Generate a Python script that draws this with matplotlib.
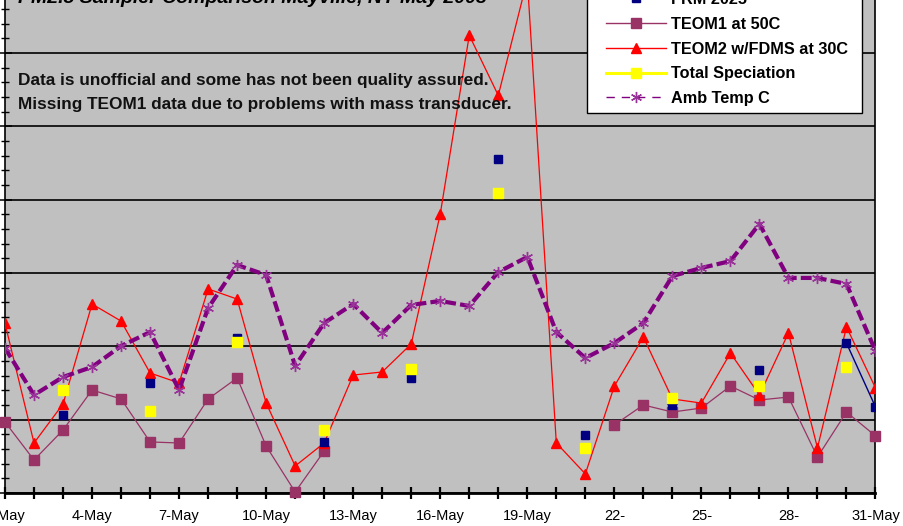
import numpy as np
import matplotlib
matplotlib.use("Agg")
import matplotlib.pyplot as plt
from matplotlib.lines import Line2D
from matplotlib.patches import Rectangle
from matplotlib.ticker import FixedLocator, MultipleLocator

nan = np.nan
days = list(range(1, 32))
label_days = [1, 4, 7, 10, 13, 16, 19, 22, 25, 28, 31]
tick_labels = ["1-May", "4-May", "7-May", "10-May", "13-May", "16-May",
               "19-May", "22-", "25-", "28-", "31-May"]

frm_2025 = [nan, nan, 5.32, nan, nan, 7.50, nan, nan, 10.57, nan, nan, 3.48,
            nan, nan, 7.84, nan, nan, 22.77, nan, nan, 3.95, nan, nan, 6.00,
            nan, nan, 8.38, nan, nan, 10.22, 5.86]
teom1_50c = [4.84, 2.25, 4.29, 7.02, 6.41, 3.48, 3.41, 6.41, 7.84, 3.20, 0.07,
             2.86, nan, nan, nan, nan, nan, nan, nan, nan, nan, 4.64, 6.00,
             5.52, 5.79, 7.29, 6.34, 6.54, 2.45, 5.52, 3.89]
teom2_fdms = [11.56, 3.41, 6.07, 12.88, 11.72, 8.18, 7.50, 13.91, 13.22, 6.13,
              1.84, 3.41, 8.04, 8.25, 10.16, 19.02, 31.2, 27.1, 35.0, 3.41,
              1.30, 7.29, 10.63, 6.41, 6.13, 9.54, 6.68, 10.91, 3.07, 11.32, 7.16]
total_spec = [nan, nan, 7.02, nan, nan, 5.59, nan, nan, 10.26, nan, nan, 4.29,
              nan, nan, 8.45, nan, nan, 20.45, nan, nan, 3.07, nan, nan, 6.48,
              nan, nan, 7.29, nan, nan, 8.59, nan]
amb_temp = [9.88, 6.68, 7.91, 8.59, 10.02, 10.97, 7.02, 12.61, 15.54, 14.86,
            8.66, 11.59, 12.88, 10.91, 12.82, 13.09, 12.75, 15.06, 16.09, 10.97,
            9.20, 10.22, 11.59, 14.79, 15.34, 15.81, 18.34, 14.66, 14.66, 14.25, 9.68]

series_names = ["FRM 2025", "TEOM1 at 50C", "TEOM2 w/FDMS at 30C",
                "Total Speciation", "Amb Temp C"]
title = "PM2.5 Sampler Comparison Mayville, NY May 2003"
note1 = "Data is unofficial and some has not been quality assured."
note2 = "Missing TEOM1 data due to problems with mass transducer."

W, H = 904, 526
plt.rcParams['font.family'] = ['Liberation Sans', 'DejaVu Sans']
fig = plt.figure(figsize=(W / 100, H / 100), dpi=100)
fig.patch.set_facecolor('white')

ytop = 36.0
px_per_unit = 14.67
ax = fig.add_axes([5 / W, 33 / H, 870.5 / W, ytop * px_per_unit / H])
ax.set_facecolor('#C0C0C0')
ax.set_xlim(1, 31)
ax.set_ylim(0, ytop)

BLACK = 'black'
ax.yaxis.set_major_locator(MultipleLocator(5))
ax.yaxis.set_minor_locator(MultipleLocator(1))
ax.yaxis.grid(True, which='major', color=BLACK, lw=1.2)
ax.set_axisbelow(True)
ax.tick_params(axis='y', which='major', direction='inout', length=10, width=1.1,
               labelleft=False)
ax.tick_params(axis='y', which='minor', direction='inout', length=6, width=1.0)

ax.xaxis.set_major_locator(FixedLocator(label_days))
ax.xaxis.set_minor_locator(FixedLocator([d for d in days if d not in label_days]))
ax.set_xticklabels(tick_labels)
ax.tick_params(axis='x', which='both', direction='inout', length=9, width=1.6)
ax.tick_params(axis='x', which='major', labelsize=10.5, pad=7)

for s in ['left', 'right']:
    ax.spines[s].set_linewidth(1.2)
ax.spines['bottom'].set_linewidth(2.0)
ax.spines['top'].set_visible(False)

ax.plot(days, teom1_50c, color='#993366', lw=0.9, marker='s', ms=6.5,
        mec='#993366', mfc='#993366', zorder=3, clip_on=False)
ax.plot(days, teom2_fdms, color='#FF0000', lw=0.9, marker='^', ms=7,
        mec='#FF0000', mfc='#FF0000', zorder=4, clip_on=True)
ax.plot(days, frm_2025, color='#000080', lw=1.0, marker='s', ms=6.3,
        mec='#000080', mfc='#000080', zorder=5)
ax.plot(days, total_spec, color='#FFFF00', lw=1.0, marker='s', ms=6.8,
        mec='#FFFF00', mfc='#FFFF00', zorder=6)
ax.plot(days, amb_temp, color='#800080', lw=3.0, dashes=(2.6, 1.0),
        marker=(6, 2, 0), ms=8, mec='#993399', mew=1.0, zorder=7)

# legend box
fig.add_artist(Rectangle((587 / W, (H - 113) / H), (862 - 587) / W, 0.3,
                         transform=fig.transFigure, facecolor='white',
                         edgecolor=BLACK, lw=1.0, zorder=10))
handles = [
    Line2D([], [], color='#000080', lw=2.2, marker='s', ms=6, mec='#000080', mfc='#000080'),
    Line2D([], [], color='#993366', lw=1.0, marker='s', ms=7, mec='#993366', mfc='#993366'),
    Line2D([], [], color='#FF0000', lw=1.0, marker='^', ms=7, mec='#FF0000', mfc='#FF0000'),
    Line2D([], [], color='#FFFF00', lw=2.2, marker='s', ms=7, mec='#FFFF00', mfc='#FFFF00'),
    Line2D([], [], color='#800080', lw=1.0, dashes=(6, 5), marker=(6, 2, 0), ms=8,
           mec='#993399', mew=1.0),
]
fs = 11.7
fs_px = fs * 100 / 72
leg = fig.legend(handles, series_names, loc='lower left',
                 bbox_to_anchor=(606 / W, (H - 106) / H),
                 bbox_transform=fig.transFigure, frameon=False, borderpad=0,
                 borderaxespad=0, labelspacing=0.6, handlelength=60 / fs_px,
                 handletextpad=5 / fs_px, prop={'weight': 'bold', 'size': fs})
leg.set_zorder(11)

fig.text(18 / W, 1 - 3 / H, title, fontsize=14, fontweight='bold',
         fontstyle='italic', ha='left', va='baseline', zorder=12)
fig.text(18 / W, 1 - 81 / H, note1, fontsize=12.4, fontweight='bold',
         ha='left', va='center', color='#111111', zorder=12)
fig.text(18 / W, 1 - 105 / H, note2, fontsize=12.4, fontweight='bold',
         ha='left', va='center', color='#111111', zorder=12)

fig.savefig('out.png', dpi=100)
